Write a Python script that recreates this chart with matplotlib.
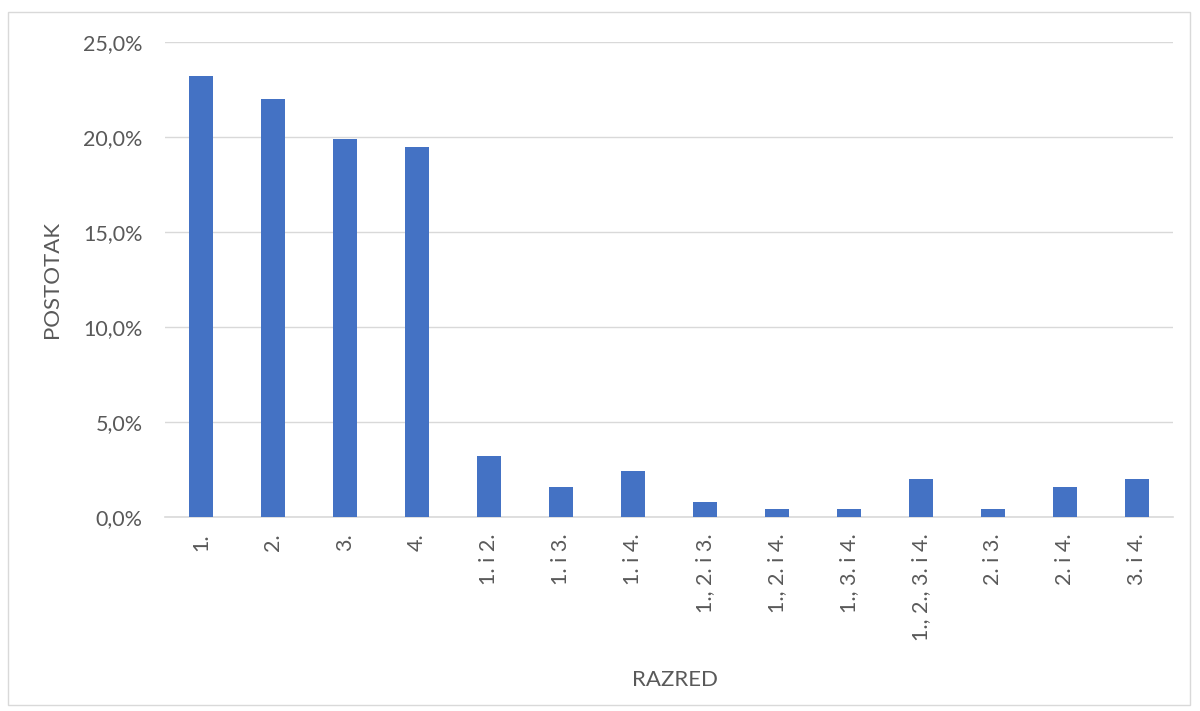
import matplotlib
matplotlib.use("Agg")
import matplotlib.pyplot as plt
from matplotlib.patches import Rectangle
from matplotlib.ticker import FuncFormatter, MultipleLocator

categories = ["1.", "2.", "3.", "4.", "1. i 2.", "1. i 3.", "1. i 4.",
              "1., 2. i 3.", "1., 2. i 4.", "1., 3. i 4.", "1., 2., 3. i 4.",
              "2. i 3.", "2. i 4.", "3. i 4."]
values = [23.2, 22.0, 19.9, 19.5, 3.2, 1.6, 2.4, 0.8, 0.4, 0.4, 2.0, 0.4, 1.6, 2.0]

plt.rcParams['font.family'] = ['Lato', 'DejaVu Sans']
txt = '#595959'

fig = plt.figure(figsize=(12, 7.11), dpi=100)
ax = fig.add_axes([165/1200, 1-517/711, (1173-165)/1200, (517-42)/711])

x = list(range(len(categories)))
ax.bar(x, values, width=0.32, color='#4472C4', zorder=3)
ax.set_xlim(-0.5, len(categories)-0.5)
ax.set_ylim(0, 25)
ax.yaxis.set_major_locator(MultipleLocator(5))
ax.yaxis.set_major_formatter(FuncFormatter(lambda v, p: f"{v:.1f}".replace('.', ',') + '%'))
ax.grid(axis='y', color='#d9d9d9', linewidth=1, zorder=0)
for s in ['top', 'right', 'left']:
    ax.spines[s].set_visible(False)
ax.spines['bottom'].set_color('#d9d9d9')
ax.spines['bottom'].set_linewidth(1.2)
ax.set_xticks(x)
ax.set_xticklabels(categories, rotation=90, ha='center', va='top')
ax.tick_params(axis='both', length=0, labelsize=15.5, colors=txt)
ax.tick_params(axis='x', pad=12)
ax.tick_params(axis='y', pad=16)
ax.set_ylabel('POSTOTAK', fontsize=16, color=txt)
ax.yaxis.set_label_coords(-(165-62)/1008, 0.5)
ax.set_xlabel('RAZRED', fontsize=16, color=txt)
ax.xaxis.set_label_coords((675-165)/1008, -(670-517)/475)

fig.patches.append(Rectangle((8/1200, 1-705/711), (1190-8)/1200, (705-12)/711,
                             transform=fig.transFigure, fill=False,
                             edgecolor='#d9d9d9', linewidth=1))
fig.savefig('out.png', dpi=100)
